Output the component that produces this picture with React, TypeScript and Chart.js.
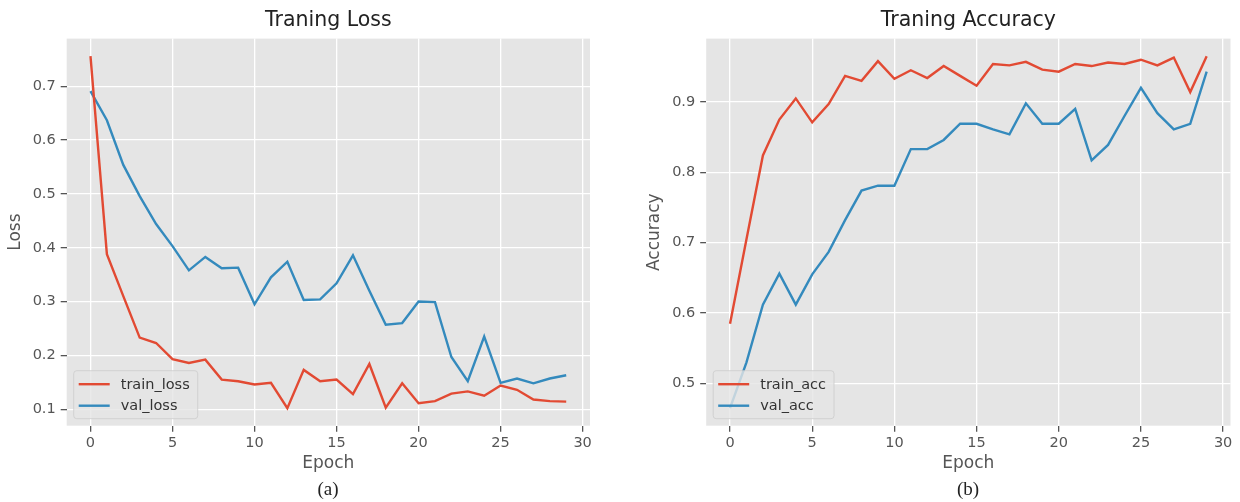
import React, { useEffect, useRef } from "react";
import { Chart, registerables } from "chart.js";

Chart.register(...registerables);

// ---------------- data ----------------
const epochs = [0, 1, 2, 3, 4, 5, 6, 7, 8, 9, 10, 11, 12, 13, 14, 15, 16, 17, 18, 19, 20, 21, 22, 23, 24, 25, 26, 27, 28, 29];

const trainLoss = [0.756, 0.388, 0.310, 0.233, 0.223, 0.193, 0.186, 0.192, 0.155, 0.152, 0.146, 0.149, 0.102, 0.173, 0.152, 0.155, 0.128, 0.184, 0.103, 0.148, 0.111, 0.115, 0.129, 0.133, 0.125, 0.144, 0.136, 0.118, 0.115, 0.114];
const valLoss = [0.691, 0.637, 0.554, 0.496, 0.444, 0.403, 0.358, 0.383, 0.362, 0.363, 0.295, 0.345, 0.374, 0.303, 0.304, 0.334, 0.386, 0.320, 0.257, 0.260, 0.300, 0.299, 0.197, 0.152, 0.235, 0.149, 0.157, 0.148, 0.157, 0.163];

const trainAcc = [0.585, 0.705, 0.824, 0.875, 0.905, 0.871, 0.897, 0.937, 0.930, 0.958, 0.933, 0.945, 0.934, 0.951, 0.937, 0.923, 0.954, 0.952, 0.957, 0.946, 0.943, 0.954, 0.951, 0.956, 0.954, 0.960, 0.952, 0.963, 0.914, 0.965];
const valAcc = [0.465, 0.530, 0.612, 0.656, 0.612, 0.655, 0.687, 0.732, 0.774, 0.781, 0.781, 0.833, 0.833, 0.846, 0.869, 0.869, 0.861, 0.854, 0.898, 0.869, 0.869, 0.890, 0.817, 0.839, 0.880, 0.920, 0.884, 0.861, 0.869, 0.943];

const xTickStep = 5;
const yTickStep = 0.1;

// ---------------- styles ----------------
const RED = "#E24A33";
const BLUE = "#348ABD";
const FONT = "'DejaVu Sans', sans-serif";
const TICK_SIZE = 14.5;
const LABEL_SIZE = 17;
const TITLE_SIZE = 20.5;
const LINE_W = 2.4;

function margins(values: number[]) {
  const mn = Math.min(...values);
  const mx = Math.max(...values);
  const pad = 0.05 * (mx - mn);
  return { min: mn - pad, max: mx + pad };
}

const bgPlugin = {
  id: "axesBg",
  beforeDraw(chart: any) {
    const { ctx, chartArea } = chart;
    ctx.save();
    ctx.fillStyle = "#E5E5E5";
    ctx.fillRect(chartArea.left, chartArea.top, chartArea.right - chartArea.left, chartArea.bottom - chartArea.top);
    ctx.restore();
  },
};

const legendPlugin = {
  id: "mplLegend",
  afterDatasetsDraw(chart: any) {
    const { ctx, chartArea } = chart;
    const ds = chart.data.datasets;
    ctx.save();
    ctx.font = `${TICK_SIZE}px ${FONT}`;
    let tw = 0;
    ds.forEach((d: any) => {
      tw = Math.max(tw, ctx.measureText(d.label).width);
    });
    const h = 48;
    const x = chartArea.left + 7;
    const y = chartArea.bottom - 7 - h;
    const w = 47 + tw + 8;
    ctx.beginPath();
    ctx.roundRect(x, y, w, h, 3);
    ctx.fillStyle = "rgba(229,229,229,0.8)";
    ctx.fill();
    ctx.lineWidth = 1;
    ctx.strokeStyle = "rgba(204,204,204,0.8)";
    ctx.stroke();
    ds.forEach((d: any, i: number) => {
      const cy = y + 13.5 + i * 21.5;
      ctx.beginPath();
      ctx.moveTo(x + 5, cy);
      ctx.lineTo(x + 36, cy);
      ctx.strokeStyle = d.borderColor;
      ctx.lineWidth = LINE_W;
      ctx.stroke();
      ctx.fillStyle = "#333333";
      ctx.textBaseline = "middle";
      ctx.textAlign = "left";
      ctx.fillText(d.label, x + 47, cy + 1);
    });
    ctx.restore();
  },
};

type PanelProps = {
  title: string;
  yLabel: string;
  series: { label: string; data: number[]; color: string }[];
  yAxisWidth: number;
  yTitlePad: number;
  rightPad: number;
};

function Panel({ title, yLabel, series, yAxisWidth, yTitlePad, rightPad }: PanelProps) {
  const ref = useRef<HTMLCanvasElement | null>(null);
  useEffect(() => {
    if (!ref.current) return;
    const xr = margins(epochs);
    const yr = margins(series.flatMap((s) => s.data));
    const chart = new Chart(ref.current, {
      type: "line",
      data: {
        datasets: series.map((s) => ({
          label: s.label,
          data: epochs.map((e, i) => ({ x: e, y: s.data[i] })),
          borderColor: s.color,
          backgroundColor: s.color,
          borderWidth: LINE_W,
          pointRadius: 0,
          tension: 0,
          fill: false,
        })),
      },
      options: {
        responsive: false,
        animation: false,
        devicePixelRatio: 1,
        layout: { padding: { left: 0, right: rightPad, top: 0, bottom: 0 } },
        plugins: {
          legend: { display: false },
          tooltip: { enabled: false },
          title: {
            display: true,
            text: title,
            color: "#222222",
            fullSize: false,
            font: { family: FONT, size: TITLE_SIZE, weight: "normal" },
            padding: { top: 8.8, bottom: 5.2 },
          },
        },
        scales: {
          x: {
            type: "linear",
            min: xr.min,
            max: xr.max,
            border: { display: false },
            grid: { color: "#FFFFFF", lineWidth: 1.3, tickLength: 6, tickColor: "#555555", drawTicks: true },
            ticks: {
              stepSize: xTickStep,
              includeBounds: false,
              color: "#555555",
              padding: 3,
              maxRotation: 0,
              font: { family: FONT, size: TICK_SIZE },
            },
            title: {
              display: true,
              text: "Epoch",
              color: "#555555",
              font: { family: FONT, size: LABEL_SIZE },
              padding: { top: 0, bottom: 27.8 },
            },
            afterFit: (s: any) => {
              s.height = 76.3;
            },
          },
          y: {
            type: "linear",
            min: yr.min,
            max: yr.max,
            border: { display: false },
            grid: { color: "#FFFFFF", lineWidth: 1.3, tickLength: 6, tickColor: "#555555", drawTicks: true },
            ticks: {
              stepSize: yTickStep,
              includeBounds: false,
              color: "#555555",
              padding: 5,
              font: { family: FONT, size: TICK_SIZE },
              callback: (v: any) => Number(v).toFixed(1),
            },
            title: {
              display: true,
              text: yLabel,
              color: "#555555",
              font: { family: FONT, size: LABEL_SIZE },
              padding: { top: yTitlePad, bottom: 0 },
            },
            afterFit: (s: any) => {
              s.width = yAxisWidth;
            },
          },
        },
      },
      plugins: [bgPlugin, legendPlugin],
    } as any);
    return () => chart.destroy();
  }, []);
  return <canvas ref={ref} width={620} height={502} />;
}

export default function App() {
  return (
    <div style={{ position: "absolute", left: 0, top: 0, width: 1240, height: 502, background: "#fff" }}>
      <div style={{ position: "absolute", left: 0, top: 0, width: 620, height: 502 }}>
        <Panel
          title="Traning Loss"
          yLabel="Loss"
          series={[
            { label: "train_loss", data: trainLoss, color: RED },
            { label: "val_loss", data: valLoss, color: BLUE },
          ]}
          yAxisWidth={66.7}
          yTitlePad={5.8}
          rightPad={30}
        />
      </div>
      <div style={{ position: "absolute", left: 620, top: 0, width: 620, height: 502 }}>
        <Panel
          title="Traning Accuracy"
          yLabel="Accuracy"
          series={[
            { label: "train_acc", data: trainAcc, color: RED },
            { label: "val_acc", data: valAcc, color: BLUE },
          ]}
          yAxisWidth={86.2}
          yTitlePad={24.8}
          rightPad={9.5}
        />
      </div>
      <div style={{ position: "absolute", left: 228, width: 200, top: 477, textAlign: "center", fontFamily: "'Liberation Serif', serif", fontSize: 19, color: "#222", lineHeight: "24px" }}>
        (a)
      </div>
      <div style={{ position: "absolute", left: 868, width: 200, top: 477, textAlign: "center", fontFamily: "'Liberation Serif', serif", fontSize: 19, color: "#222", lineHeight: "24px" }}>
        (b)
      </div>
    </div>
  );
}
